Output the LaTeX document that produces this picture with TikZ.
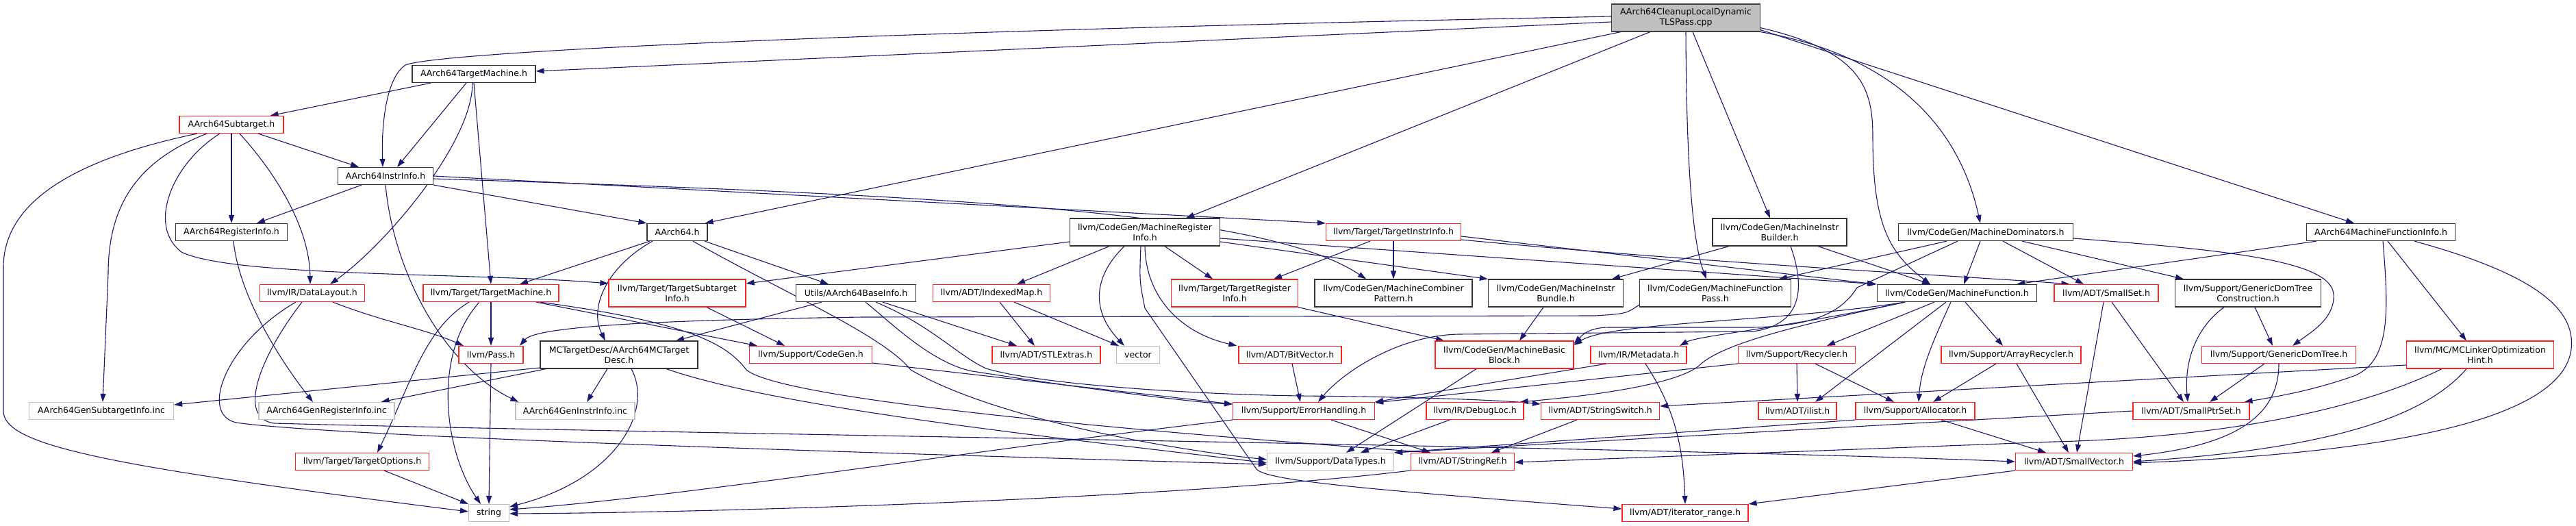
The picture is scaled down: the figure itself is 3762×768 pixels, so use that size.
\documentclass[tikz,border=0pt]{standalone}
\usepackage{fontspec}
\setmainfont{DejaVu Sans}
\usetikzlibrary{arrows.meta}
\pgfdeclarelayer{bg}
\pgfsetlayers{bg,main}
\definecolor{edgecol}{HTML}{191970}
\definecolor{gbord}{HTML}{BFBFBF}
\definecolor{rootfill}{HTML}{BFBFBF}
\definecolor{rbord}{HTML}{FF2020}
\newcommand\mynode[7]{\node[nbox,#1,minimum width=#5pt,minimum height=#6pt] (#2) at (#3,#4) {#7};}
\begin{document}
\begin{tikzpicture}[x=1pt,y=-1pt,
 nbox/.style={draw, inner sep=0pt, line width=1.2pt, align=center, font=\fontsize{12.5}{15}\selectfont, fill=white},
 bk/.style={draw=black!80},
 rd/.style={draw=rbord},
 gy/.style={draw=gbord},
 rt/.style={draw=black!75, fill=rootfill},
 edg/.style={draw=edgecol, line width=1.1pt, -{Triangle[length=12pt,width=8pt]}}]
\useasboundingbox (0,0) rectangle (3762,768);
% row 0-3
\mynode{rt}{R}{2462}{26}{217}{40}{AArch64CleanupLocalDynamic\\TLSPass.cpp}
\mynode{bk}{TM}{692}{108}{180}{25}{AArch64TargetMachine.h}
\mynode{rd}{ST}{338}{182}{152}{25}{AArch64Subtarget.h}
\mynode{bk}{II}{563}{257}{139}{25}{AArch64InstrInfo.h}
\mynode{bk}{RI}{338}{339}{163}{25}{AArch64RegisterInfo.h}
\mynode{bk}{A64}{989}{339}{88}{25}{AArch64.h}
\mynode{bk}{MRI}{1672}{339}{219}{40}{llvm/CodeGen/MachineRegister\\Info.h}
\mynode{rd}{TII}{2035}{339}{197}{25}{llvm/Target/TargetInstrInfo.h}
\mynode{bk}{MIB}{2599}{339}{196}{40}{llvm/CodeGen/MachineInstr\\Builder.h}
\mynode{bk}{MDom}{2900}{339}{255}{25}{llvm/CodeGen/MachineDominators.h}
\mynode{bk}{MFI}{3477}{339}{217}{25}{AArch64MachineFunctionInfo.h}
% row 4
\mynode{rd}{DL}{456}{428}{153}{25}{llvm/IR/DataLayout.h}
\mynode{rd}{TMh}{717}{428}{198}{25}{llvm/Target/TargetMachine.h}
\mynode{rd}{TSI}{989}{428}{200}{40}{llvm/Target/TargetSubtarget\\Info.h}
\mynode{bk}{BI}{1250}{428}{175}{25}{Utils/AArch64BaseInfo.h}
\mynode{rd}{IM}{1448}{428}{171}{25}{llvm/ADT/IndexedMap.h}
\mynode{rd}{TRI}{1803}{428}{185}{40}{llvm/Target/TargetRegister\\Info.h}
\mynode{bk}{MCP}{2035}{428}{230}{40}{llvm/CodeGen/MachineCombiner\\Pattern.h}
\mynode{bk}{MIBun}{2272}{428}{197}{40}{llvm/CodeGen/MachineInstr\\Bundle.h}
\mynode{bk}{MFP}{2505}{428}{221}{40}{llvm/CodeGen/MachineFunction\\Pass.h}
\mynode{bk}{MF}{2858}{428}{233}{25}{llvm/CodeGen/MachineFunction.h}
\mynode{rd}{SS}{3076}{428}{152}{25}{llvm/ADT/SmallSet.h}
\mynode{bk}{GDTC}{3283}{428}{213}{40}{llvm/Support/GenericDomTree\\Construction.h}
% row 5
\mynode{rd}{Pass}{717}{518}{94}{25}{llvm/Pass.h}
\mynode{bk}{MCTD}{904}{518}{230}{40}{MCTargetDesc/AArch64MCTarget\\Desc.h}
\mynode{rd}{CG}{1184}{518}{179}{25}{llvm/Support/CodeGen.h}
\mynode{rd}{STL}{1528}{518}{158}{25}{llvm/ADT/STLExtras.h}
\mynode{gy}{VEC}{1662}{518}{63}{25}{vector}
\mynode{rd}{BV}{1884}{518}{150}{25}{llvm/ADT/BitVector.h}
\mynode{rd}{MBB}{2197}{518}{202}{40}{llvm/CodeGen/MachineBasic\\Block.h}
\mynode{rd}{MD}{2393}{518}{140}{25}{llvm/IR/Metadata.h}
\mynode{rd}{REC}{2624}{518}{171}{25}{llvm/Support/Recycler.h}
\mynode{rd}{AREC}{2937}{518}{204}{25}{llvm/Support/ArrayRecycler.h}
\mynode{rd}{GDT}{3328}{518}{225}{25}{llvm/Support/GenericDomTree.h}
\mynode{rd}{MCLOH}{3622}{518}{215}{40}{llvm/MC/MCLinkerOptimization\\Hint.h}
% row 6
\mynode{gy}{GST}{148}{600}{211}{25}{AArch64GenSubtargetInfo.inc}
\mynode{gy}{GRI}{477}{600}{198}{25}{AArch64GenRegisterInfo.inc}
\mynode{gy}{GII}{840}{600}{174}{25}{AArch64GenInstrInfo.inc}
\mynode{rd}{EH}{1904}{600}{207}{25}{llvm/Support/ErrorHandling.h}
\mynode{rd}{DLoc}{2154}{600}{142}{25}{llvm/IR/DebugLoc.h}
\mynode{rd}{SSw}{2337}{600}{173}{25}{llvm/ADT/StringSwitch.h}
\mynode{rd}{IL}{2625}{600}{114}{25}{llvm/ADT/ilist.h}
\mynode{rd}{ALLOC}{2797}{600}{174}{25}{llvm/Support/Allocator.h}
\mynode{rd}{SPS}{3200}{600}{170}{25}{llvm/ADT/SmallPtrSet.h}
% row 7-8
\mynode{rd}{TO}{529}{674}{195}{25}{llvm/Target/TargetOptions.h}
\mynode{gy}{DT}{1943}{674}{185}{25}{llvm/Support/DataTypes.h}
\mynode{rd}{SR}{2136}{674}{151}{25}{llvm/ADT/StringRef.h}
\mynode{rd}{SV}{3029}{674}{171}{25}{llvm/ADT/SmallVector.h}
\mynode{gy}{STR}{714}{749}{59}{25}{string}
\mynode{rd}{IR}{2461}{749}{184}{25}{llvm/ADT/iterator\_range.h}

\begin{pgfonlayer}{bg}
% root
\draw[edg] ([yshift=-6pt]R.west) -- ([yshift=4pt]TM.east);
\draw[edg] ([yshift=2pt]R.west) .. controls (1300,45) and (640,75) .. (592,95) .. controls (562,115) and (557,190) .. ([xshift=-4pt]II.north);
\draw[edg] ([xshift=14pt]R.south west) -- ([xshift=-4pt]A64.north east);
\draw[edg] ([xshift=57pt]R.south west) -- ([xshift=-50pt]MRI.north east);
\draw[edg] ([xshift=10pt]R.south) -- ([xshift=-14pt]MIB.north);
\draw[edg] (R.south east) .. controls (2760,80) and (2860,180) .. ([xshift=-8pt]MDom.north);
\draw[edg] ([yshift=3pt]R.south east) -- ([xshift=-39pt]MFI.north);
\draw[edg] (R.south) .. controls (2463,300) and (2478,370) .. ([xshift=-13pt]MFP.north);
\draw[edg] ([yshift=6pt]R.south east) .. controls (2720,75) and (2735,130) .. (2735,200) .. controls (2735,330) and (2760,370) .. ([xshift=-39pt]MF.north);
% TM
\draw[edg] ([xshift=28pt]TM.south west) -- ([xshift=-20pt]ST.north east);
\draw[edg] ([xshift=-11pt]TM.south) -- ([xshift=17pt]II.north);
\draw[edg] ([xshift=-2pt]TM.south) .. controls (690,210) and (560,360) .. ([xshift=26pt]DL.north);
\draw[edg] (TM.south) -- (TMh.north);
% ST
\draw[edg] ([xshift=-50pt]ST.south) .. controls (120,230) and (5,290) .. (5,390) -- (5,600) .. controls (5,650) and (150,680) .. ([yshift=2pt]STR.west);
\draw[edg] ([xshift=-36pt]ST.south) .. controls (200,235) and (158,300) .. (158,400) -- ([xshift=2pt]GST.north);
\draw[edg] ([xshift=-17pt]ST.south) .. controls (250,240) and (215,330) .. (265,368) .. controls (340,405) and (700,398) .. ([yshift=14pt]TSI.west);
\draw[edg] (ST.south) -- (RI.north);
\draw[edg] ([xshift=12pt]ST.south) .. controls (400,250) and (452,330) .. ([xshift=-3pt]DL.north);
\draw[edg] ([xshift=39pt]ST.south) -- ([xshift=-39pt]II.north);
% II
\draw[edg] ([xshift=-35pt]II.south) -- ([xshift=37pt]RI.north);
\draw[edg] (II.south east) -- (A64.north west);
\draw[edg] (II.east) -- (TII.north west);
\draw[edg] ([yshift=-4pt]II.east) .. controls (1400,285) and (1850,310) .. ([xshift=-40pt]MCP.north);
\draw[edg] (II.south) .. controls (575,400) and (650,535) .. ([xshift=5pt]GII.north west);
% RI
\draw[edg] ([xshift=3pt]RI.south) .. controls (350,440) and (420,540) .. ([xshift=-20pt]GRI.north);
% A64
\draw[edg] ([xshift=-40pt]A64.south) -- ([xshift=42pt]TMh.north);
\draw[edg] ([xshift=-36pt]A64.south) .. controls (885,390) and (860,450) .. ([xshift=-20pt]MCTD.north);
\draw[edg] ([xshift=40pt]A64.south) -- ([xshift=-40pt]BI.north);
\draw[edg] ([xshift=23pt]A64.south) .. controls (1150,430) and (1290,490) .. (1330,540) .. controls (1450,610) and (1700,655) .. ([yshift=3pt]DT.west);
% MRI
\draw[edg] ([yshift=-14pt]MRI.west) -- ([yshift=14pt]TSI.east);
\draw[edg] ([xshift=-52pt]MRI.south) -- ([xshift=37pt]IM.north);
\draw[edg] ([xshift=-30pt]MRI.south) .. controls (1600,400) and (1590,450) .. ([xshift=-20pt]VEC.north);
\draw[edg] ([xshift=-6pt]MRI.south) .. controls (1664,410) .. (1672,450) -- (1835,685) .. controls (1850,702) and (2000,715) .. ([yshift=6pt]IR.west);
\draw[edg] ([xshift=29pt]MRI.south) -- ([xshift=-32pt]TRI.north);
\draw[edg] (MRI.south) .. controls (1673,430) and (1720,485) .. ([xshift=-2pt]BV.north west);
\draw[edg] ([yshift=-9pt]MRI.east) -- (MF.north west);
\draw[edg] ([yshift=-14pt]MRI.east) -- (MIBun.north west);
% TII
\draw[edg] ([xshift=-34pt]TII.south) -- ([xshift=57pt]TRI.north);
\draw[edg] (TII.south) -- (MCP.north);
\draw[edg] ([yshift=-6pt]TII.east) -- ([xshift=-2pt]MF.north west);
\draw[edg] ([yshift=-11pt]TII.east) .. controls (2500,385) and (2900,405) .. ([xshift=23pt]SS.north west);
% MIB
\draw[edg] ([xshift=-74pt]MIB.south) -- ([xshift=82pt]MIBun.north);
\draw[edg] ([xshift=56pt]MIB.south) -- ([xshift=-39pt]MF.north);
\draw[edg] ([xshift=16pt]MIB.south) .. controls (2640,430) and (2625,475) .. (2560,484) -- (2130,488) .. controls (2040,490) and (1960,545) .. ([xshift=21pt]EH.north);
% MDom
\draw[edg] ([xshift=-57pt]MDom.south) -- ([xshift=93pt]MFP.north);
\draw[edg] ([xshift=-41pt]MDom.south) -- (2712,420) .. controls (2690,455) and (2650,476) .. (2560,478) -- (2350,478) .. controls (2320,478) and (2310,490) .. ([yshift=16pt]MBB.east);
\draw[edg] ([xshift=-8pt]MDom.south) -- ([xshift=10pt]MF.north);
\draw[edg] ([xshift=25pt]MDom.south) -- ([xshift=-33pt]SS.north);
\draw[edg] ([xshift=53pt]MDom.south) -- ([xshift=-94pt]GDTC.north);
\draw[edg] ([yshift=-9pt]MDom.east) .. controls (3250,365) and (3405,380) .. (3408,430) .. controls (3410,465) and (3375,485) .. ([xshift=20pt]GDT.north);
% MF
\draw[edg] ([xshift=-76pt]MF.south) .. controls (2600,470) and (2350,470) .. ([yshift=14pt]MBB.east);
\draw[edg] ([xshift=-76pt]MF.south) .. controls (2600,480) and (2480,490) .. ([xshift=60pt]MD.north);
\draw[edg] ([xshift=-76pt]MF.south) .. controls (2600,480) and (2510,505) .. (2480,535) .. controls (2440,565) and (2300,580) .. ([xshift=-6pt]DLoc.north east);
\draw[edg] ([xshift=-33pt]MF.south) -- ([xshift=44pt]REC.north);
\draw[edg] ([xshift=-16pt]MF.south) -- ([xshift=26pt]IL.north);
\draw[edg] ([xshift=-9pt]MF.south) .. controls (2822,500) and (2805,540) .. ([xshift=5pt]ALLOC.north);
\draw[edg] ([xshift=12pt]MF.south) -- ([xshift=-12pt]AREC.north);
% MFI
\draw[edg] ([xshift=-94pt]MFI.south) -- ([xshift=-30pt]MF.north east);
\draw[edg] ([xshift=3pt]MFI.south) .. controls (3488,450) and (3492,525) .. (3440,548) .. controls (3380,570) and (3320,580) .. ([xshift=-8pt]SPS.north east);
\draw[edg] ([xshift=10pt]MFI.south) -- ([xshift=-20pt]MCLOH.north);
\draw[edg] ([xshift=49pt]MFI.south) .. controls (3700,400) and (3762,450) .. (3755,510) .. controls (3740,630) and (3400,665) .. ([yshift=-2pt]SV.east);
% TSI, TMh
\draw[edg] ([xshift=43pt]TSI.south) -- ([xshift=-38pt]CG.north);
\draw[edg] ([xshift=-32pt]TMh.south) .. controls (620,480) and (600,560) .. ([xshift=22pt]TO.north);
\draw[edg] ([xshift=-17pt]TMh.south) .. controls (630,520) and (650,660) .. ([xshift=-12pt]STR.north);
\draw[edg] (TMh.south) -- (Pass.north);
\draw[edg] ([xshift=66pt]TMh.south) -- ([xshift=-78pt]CG.north);
\draw[edg] ([xshift=72pt]TMh.south) .. controls (1000,470) and (1060,500) .. (1090,540) .. controls (1150,590) and (1800,640) .. ([xshift=-47pt]SR.north);
% Pass, MCTD
\draw[edg] (Pass.south) -- (STR.north);
\draw[edg] ([yshift=-19pt]MCTD.west) -- ([yshift=9pt]GST.east);
\draw[edg] ([xshift=9pt]MCTD.south west) -- ([xshift=-20pt]GRI.north east);
\draw[edg] ([xshift=-17pt]MCTD.south) -- ([xshift=17pt]GII.north);
\draw[edg] ([xshift=18pt]MCTD.south) .. controls (955,600) and (900,700) .. ([yshift=9pt]STR.east);
\draw[edg] ([xshift=69pt]MCTD.south) .. controls (1150,600) and (1600,645) .. ([yshift=-2pt]DT.west);
% BI
\draw[edg] ([xshift=-50pt]BI.south) -- ([xshift=83pt]MCTD.north);
\draw[edg] ([xshift=39pt]BI.south) -- ([xshift=-43pt]STL.north);
\draw[edg] ([xshift=14pt]BI.south) .. controls (1300,470) and (1360,530) .. (1420,542) .. controls (1600,570) and (1750,588) .. ([yshift=10pt]EH.west);
\draw[edg] ([xshift=29pt]BI.south) .. controls (1360,475) and (1400,520) .. (1440,538) .. controls (1520,562) and (1750,576) .. (1900,578) .. controls (2100,580) and (2200,585) .. ([yshift=10pt]SSw.west);
% IM, TRI, MIBun, MFP
\draw[edg] ([xshift=12pt]IM.south) -- ([xshift=-17pt]STL.north);
\draw[edg] ([xshift=33pt]IM.south) -- ([xshift=-28pt]VEC.north);
\draw[edg] (TRI.south east) -- ([xshift=-88pt]MBB.north);
\draw[edg] ([xshift=-18pt]MIBun.south) -- ([xshift=22pt]MBB.north);
\draw[edg] ([yshift=-17pt]MFP.west) .. controls (2375,458) .. (2330,461) -- (1260,463) .. controls (900,468) and (780,480) .. ([xshift=42pt]Pass.north);
% row 5 sources
\draw[edg] ([yshift=-12pt]CG.east) -- ([yshift=10pt]EH.west);
\draw[edg] ([xshift=3pt]BV.south) -- ([xshift=-5pt]EH.north);
\draw[edg] ([xshift=-41pt]MBB.south) -- ([xshift=23pt]DT.north);
\draw[edg] ([xshift=-47pt]MD.south) -- (EH.north east);
\draw[edg] ([xshift=10pt]MD.south) .. controls (2445,595) and (2458,650) .. (IR.north);
\draw[edg] (REC.south) -- (IL.north);
\draw[edg] ([xshift=27pt]REC.south) -- ([xshift=-31pt]ALLOC.north);
\draw[edg] ([yshift=-13pt]REC.west) -- ([yshift=12pt]EH.east);
\draw[edg] ([xshift=-22pt]AREC.south) -- ([xshift=26pt]ALLOC.north);
\draw[edg] ([xshift=8pt]AREC.south) -- ([xshift=-8pt]SV.north);
\draw[edg] ([xshift=-4pt]SS.south) -- ([xshift=4pt]SV.north);
\draw[edg] ([xshift=8pt]SS.south) -- ([xshift=-11pt]SPS.north);
\draw[edg] ([xshift=-35pt]GDTC.south) .. controls (3205,480) and (3190,530) .. ([xshift=-5pt]SPS.north);
\draw[edg] ([xshift=10pt]GDTC.south) -- ([xshift=-9pt]GDT.north);
\draw[edg] ([xshift=-21pt]GDT.south) -- ([xshift=27pt]SPS.north);
\draw[edg] (GDT.south) .. controls (3328,610) and (3260,650) .. ([yshift=8pt]SV.east);
\draw[edg] ([yshift=-15pt]MCLOH.west) -- ([yshift=7pt]SSw.east);
\draw[edg] ([xshift=-56pt]MCLOH.south) .. controls (3420,610) and (3200,640) .. (3000,645) -- ([yshift=-1pt]SR.east);
\draw[edg] ([xshift=-20pt]MCLOH.south) .. controls (3540,610) and (3400,655) .. (SV.east);
% row 6 sources
\draw[edg] ([xshift=-37pt]DLoc.south) -- ([xshift=44pt]DT.north);
\draw[edg] ([xshift=-34pt]SSw.south) -- ([xshift=42pt]SR.north);
\draw[edg] ([xshift=40pt]EH.south) -- ([xshift=-47pt]SR.north);
\draw[edg] (EH.south west) .. controls (1400,660) and (1000,725) .. ([yshift=5pt]STR.east);
\draw[edg] ([xshift=38pt]ALLOC.south) -- ([xshift=-41pt]SV.north);
\draw[edg] (ALLOC.south west) -- (DT.north east);
\draw[edg] (SPS.west) -- (DT.north east);
% row 7 sources
\draw[edg] ([yshift=-13pt]SR.west) .. controls (1750,725) and (1100,748) .. ([yshift=-1pt]STR.east);
\draw[edg] ([xshift=32pt]TO.south) -- (STR.north west);
\draw[edg] (SV.south west) -- (IR.north east);
% DL
\draw[edg] ([xshift=-24pt]DL.south) .. controls (330,500) and (290,605) .. (345,617) .. controls (500,640) and (1500,668) .. ([yshift=-4pt]DT.west);
\draw[edg] ([xshift=-15pt]DL.south) .. controls (380,520) and (345,610) .. (400,618) .. controls (900,632) and (2400,652) .. (SV.west);
\draw[edg] ([xshift=30pt]DL.south) .. controls (560,470) and (620,480) .. ([xshift=-40pt]Pass.north);
\end{pgfonlayer}
\end{tikzpicture}
\end{document}
